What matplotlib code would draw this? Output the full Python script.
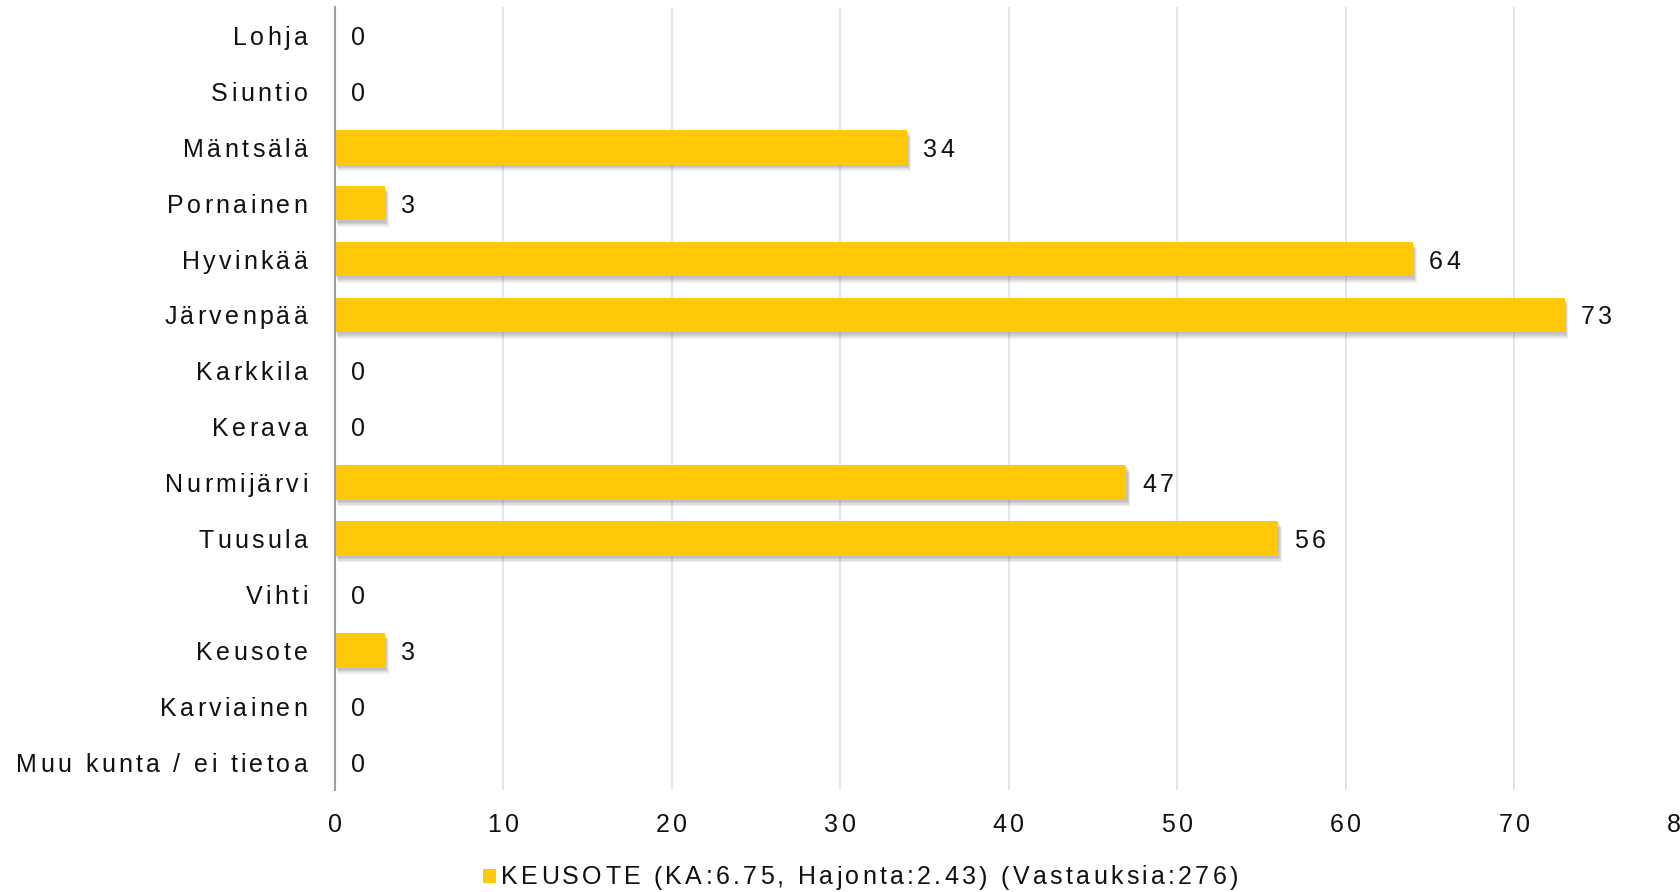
import matplotlib
matplotlib.use("Agg")
import matplotlib.pyplot as plt
import matplotlib.patheffects as pe
from matplotlib.patches import Rectangle
from matplotlib.transforms import offset_copy
from matplotlib.font_manager import FontProperties

plt.rcParams['font.family'] = ['Liberation Sans', 'DejaVu Sans']

categories = ["Lohja", "Siuntio", "Mäntsälä", "Pornainen", "Hyvinkää", "Järvenpää",
              "Karkkila", "Kerava", "Nurmijärvi", "Tuusula", "Vihti", "Keusote",
              "Karviainen", "Muu kunta / ei tietoa"]
values = [0, 0, 34, 3, 64, 73, 0, 0, 47, 56, 0, 3, 0, 0]
xticks = [0, 10, 20, 30, 40, 50, 60, 70, 80]
series_label = "KEUSOTE (KA:6.75, Hajonta:2.43) (Vastauksia:276)"

bar_color = "#FFC90A"
grid_color = "#D9E2EC"
text_color = "#111111"
FS = 18
TRACK = 3.3  # extra pixels between letters

fig = plt.figure(figsize=(16.81, 8.92), dpi=100)
ax = fig.add_axes([0.199, 0.1143, 0.8019, 0.8773])
renderer = fig.canvas.get_renderer()
fprop = FontProperties(family=['Liberation Sans', 'DejaVu Sans'], size=FS)


def char_width(c):
    w, _, _ = renderer.get_text_width_height_descent(c, fprop, ismath=False)
    return w


def spaced_text(x, y, s, transform, ha="left", dx=0.0, dy=0.0):
    """Draw a string letter by letter with extra tracking."""
    widths = [char_width(c) for c in s]
    total = sum(widths) + TRACK * (len(s) - 1)
    if ha == "left":
        start = 0.0
    elif ha == "right":
        start = -total
    else:
        start = -total / 2
    pos = start
    for c, w in zip(s, widths):
        tr = offset_copy(transform, fig=fig, x=dx + pos, y=dy, units="dots")
        fig.text(x, y, c, transform=tr, ha="left", va="center_baseline",
                 color=text_color, fontproperties=fprop)
        pos += w + TRACK


y = list(range(len(categories)))
bars = ax.barh(y, values, height=0.62, color=bar_color, zorder=3)
shadow = [pe.SimplePatchShadow(offset=(o * 0.6, -o), shadow_rgbFace="#404040", alpha=0.09)
          for o in (4.5, 3.5, 2.5, 1.5)]
for b in bars:
    b.set_path_effects(shadow + [pe.Normal()])

ax.set_ylim(len(categories) - 0.5, -0.5)
ax.set_xlim(0, 80)
ax.set_yticks(y)
ax.set_yticklabels([])
ax.set_xticks(xticks)
ax.set_xticklabels([])
ax.tick_params(axis="both", length=0)
ax.xaxis.grid(True, color=grid_color, linewidth=1.2, zorder=0)
ax.set_axisbelow(True)
for s in ["top", "right", "bottom"]:
    ax.spines[s].set_visible(False)
ax.spines["left"].set_color("#A0A0A0")
ax.spines["left"].set_linewidth(1.5)
ax.spines["left"].set_zorder(4)

# category labels
ylab_tr = ax.get_yaxis_transform()
for yi, name in zip(y, categories):
    spaced_text(0, yi, name, ylab_tr, ha="right", dx=-27)

# value labels
for yi, v in zip(y, values):
    spaced_text(v, yi, str(v), ax.transData, ha="left", dx=16)

# x tick labels
xlab_tr = ax.get_xaxis_transform()
for t in xticks:
    spaced_text(t, 0, str(t), xlab_tr, ha="center", dy=-32)

# legend
fig_w, fig_h = fig.get_size_inches() * fig.dpi
sq = 13.5
fig.add_artist(Rectangle((483 / fig_w, 1 - (876 + sq / 2) / fig_h), sq / fig_w, sq / fig_h,
                         transform=fig.transFigure, facecolor=bar_color, edgecolor="none"))
spaced_text(501 / fig_w, 1 - 875 / fig_h, series_label, fig.transFigure, ha="left")

fig.savefig("out.png", dpi=100)
